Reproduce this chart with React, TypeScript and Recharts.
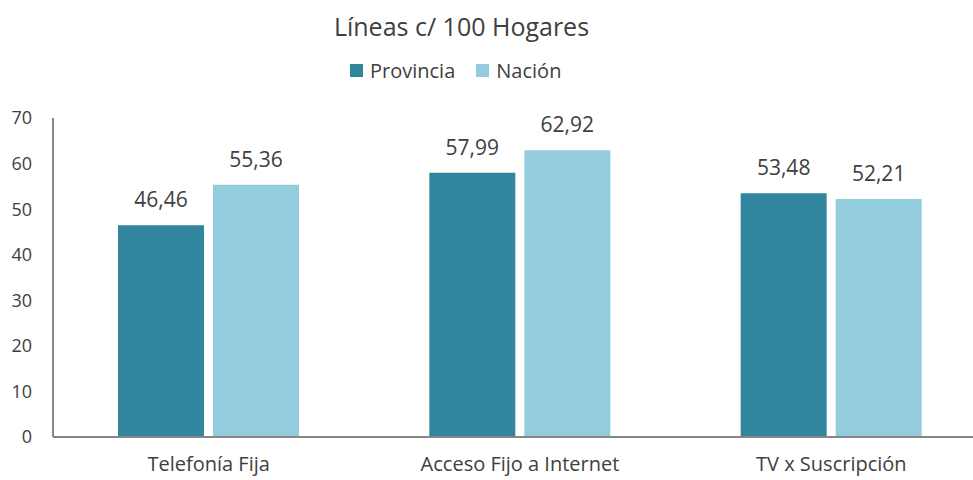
import { BarChart, Bar, XAxis, YAxis, LabelList } from 'recharts'

const categories = ['Telefonía Fija', 'Acceso Fijo a Internet', 'TV x Suscripción']
const provincia = [46.46, 57.99, 53.48]
const nacion = [55.36, 62.92, 52.21]
const yTicks = [0, 10, 20, 30, 40, 50, 60, 70]

const series = [
  { key: 'provincia', name: 'Provincia', color: '#31859C' },
  { key: 'nacion', name: 'Nación', color: '#93CDDD' },
]

const data = categories.map((name, i) => ({ name, provincia: provincia[i], nacion: nacion[i] }))

const FONT = "'Open Sans', 'Noto Sans', sans-serif"
const TEXT = '#404040'

const fmt = (v: any) => String(Number(v).toFixed(2)).replace('.', ',')

export default function App() {
  return (
    <div style={{ position: 'absolute', left: 0, top: 0, width: 973, height: 480, overflow: 'hidden', background: '#fff', fontFamily: FONT }}>
      <div style={{ position: 'absolute', left: 0, width: 923, top: 9, textAlign: 'center', fontSize: 25, color: TEXT }}>
        Líneas c/ 100 Hogares
      </div>
      <div style={{ position: 'absolute', left: 350, top: 57, display: 'flex', alignItems: 'center', fontSize: 20, color: TEXT }}>
        {series.map((s, i) => (
          <span key={s.key} style={{ display: 'flex', alignItems: 'center', marginRight: i === 0 ? 21 : 0 }}>
            <span style={{ width: 13, height: 13, background: s.color, display: 'inline-block', marginRight: 7 }} />
            {s.name}
          </span>
        ))}
      </div>
      <BarChart
        width={1000}
        height={480}
        data={data}
        margin={{ top: 118, right: 13, left: 0, bottom: 0 }}
        barGap={9}
        barSize={86}
      >
        <XAxis
          dataKey='name'
          height={43}
          tickLine={false}
          axisLine={{ stroke: '#868686', strokeWidth: 2 }}
          tick={{ fill: TEXT, fontSize: 20, fontFamily: FONT }}
          tickMargin={14}
        />
        <YAxis
          width={53}
          domain={[0, 70]}
          ticks={yTicks}
          interval={0}
          tickLine={false}
          axisLine={{ stroke: '#868686', strokeWidth: 2 }}
          tick={{ fill: TEXT, fontSize: 18, fontFamily: FONT }}
          tickMargin={15}
        />
        {series.map((s) => (
          <Bar key={s.key} dataKey={s.key} name={s.name} fill={s.color} isAnimationActive={false}>
            <LabelList
              dataKey={s.key}
              position='top'
              offset={18}
              formatter={fmt}
              style={{ fill: TEXT, fontSize: 21, fontFamily: FONT }}
            />
          </Bar>
        ))}
      </BarChart>
    </div>
  )
}
